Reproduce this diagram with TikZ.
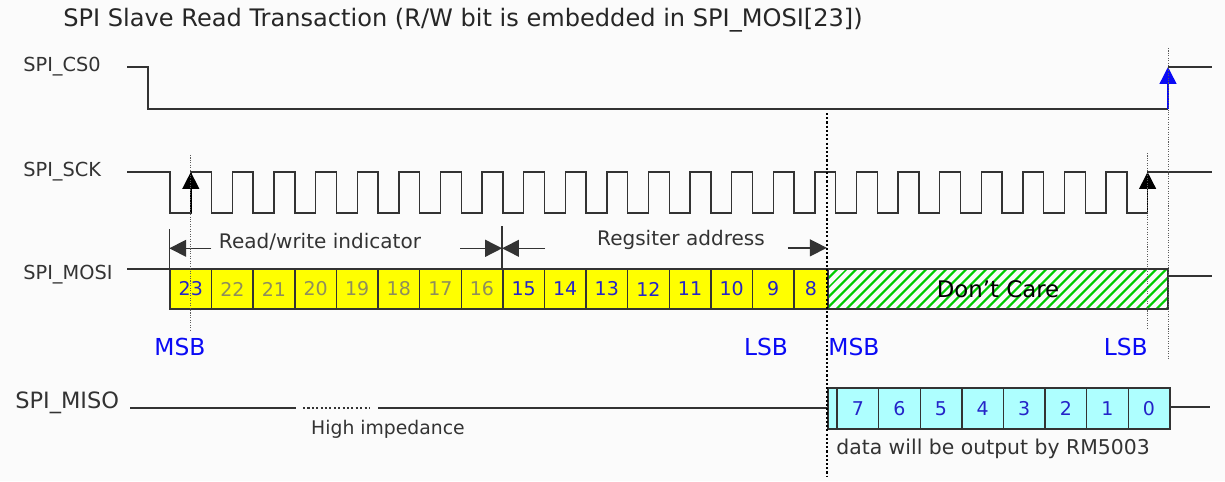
\documentclass[tikz,border=0pt]{standalone}
\usepackage{fontspec}
\setmainfont{DejaVu Sans}
\usetikzlibrary{arrows.meta,positioning,calc,patterns.meta}
\definecolor{inkgray}{HTML}{333333}
\definecolor{bitblue}{HTML}{2424C8}
\definecolor{markblue}{HTML}{0A0AF5}
\definecolor{rwolive}{HTML}{8E8E5C}
\definecolor{mosiyellow}{HTML}{FFFF00}
\definecolor{misocyan}{HTML}{AEFFFF}
\definecolor{hatchgreen}{HTML}{00CC00}
\definecolor{paper}{HTML}{FBFBFB}

\begin{document}
\begin{tikzpicture}[
    x=0.2mm, y=-0.2mm,
    >={Triangle[length=9.6pt,width=9.6pt]},
    wave/.style={inkgray, line width=0.8pt},
    bus/.style={inkgray, line width=1.5pt},
    sig/.style={anchor=west, text=inkgray, inner sep=0pt, font=\fontsize{11}{13}\selectfont},
    bitcell/.style={draw=inkgray, line width=0.8pt, fill=mosiyellow, minimum width=8.32mm,
                    minimum height=8mm, inner sep=0pt, font=\fontsize{10.8}{13}\selectfont},
    rwbit/.style={bitcell, text=rwolive},
    addrbit/.style={bitcell, text=bitblue},
    outbit/.style={bitcell, fill=misocyan, text=bitblue, minimum height=8.2mm},
    dontcare/.style={bitcell, fill=white, pattern={Lines[angle=45,distance=4pt,line width=1.3pt]},
                     pattern color=hatchgreen, minimum width=68mm, font=\fontsize{13}{15}\selectfont},
    bitmark/.style={text=markblue, inner sep=0pt, font=\fontsize{13.3}{15}\selectfont},
    note/.style={text=inkgray, inner sep=0pt, font=\fontsize{11.4}{13}\selectfont},
    dimline/.style={inkgray, line width=0.8pt},
    guide/.style={inkgray!80, line width=0.5pt, dash pattern=on 0.6pt off 0.8pt},
    splitline/.style={black, line width=1.2pt, dash pattern=on 1.2pt off 1.2pt},
    clkarrow/.style={black, line width=0.8pt},
]
\fill[paper] (0,0) rectangle (1225,481);
\useasboundingbox (0,0) rectangle (1225,481);

% =====================================================================
% title and signal names
% =====================================================================
\node[anchor=west, text=black!85, inner sep=0pt, font=\fontsize{13.7}{16}\selectfont]
    (title) at (63,20) {SPI Slave Read Transaction (R/W bit is embedded in SPI\_MOSI[23])};

\node[sig] (lcs)   at (23,67)  {SPI\_CS0};
\node[sig] (lsck)  at (23,172) {SPI\_SCK};
\node[sig] (lmosi) at (23,275) {SPI\_MOSI};
\node[sig, font=\fontsize{12.8}{14}\selectfont] (lmiso) at (15,403) {SPI\_MISO};

\coordinate (firstedge) at (190.8,172);
\coordinate (lastedge)  at (1147.6,172);
\coordinate (csrise)    at (1168,67);

% =====================================================================
% SPI_CS0 and SPI_SCK
% =====================================================================
\draw[wave] (127,67) -- (148,67) -- (148,109) -- (csrise |- 0,109);
\draw[wave, markblue, ->] (csrise |- 0,109) -- (csrise);
\draw[wave] (csrise) -- (1212,67);

% 24 clock pulses, falling edges on the bit borders
\draw[wave] (127,172)
  \foreach \k in {0,...,23} {
    -- ({170+41.6*\k},172) -- ({170+41.6*\k},213)
    -- ({190.8+41.6*\k},213) -- ({190.8+41.6*\k},172)
  } -- (1212,172);

\draw[clkarrow,->] (firstedge |- 0,213) -- (firstedge);
\draw[clkarrow,->] (lastedge |- 0,213) -- (lastedge);

% =====================================================================
% SPI_MOSI: R/W + address, then don't care
% =====================================================================
\draw[wave] (127,269) -- (170,269);
\node[addrbit] (m23) at (190.8,289) {23};
\foreach \b [count=\k from 1] in {22,21,...,16}
    \node[rwbit] (m\b) at ({190.8+41.6*\k},289) {\b};
\foreach \b [count=\k from 8] in {15,14,...,9}
    \node[addrbit] (m\b) at ({190.8+41.6*\k},289) {\b};
\node[addrbit, minimum width=6.8mm] (m8) at (811,289) {8};
\node[dontcare] (dc) at (998,289) {Don’t Care};
\draw[wave] (dc.east |- 0,276) -- (1212,276);

% field arrows
\draw[dimline] (m23.north west) -- ++(0,-39);
\draw[dimline] (m15.north west) -- ++(0,-42);
\draw[dimline,->] ($(m23.north west)+(42,-20)$) -- ($(m23.north west)+(0,-20)$);
\draw[dimline,->] ($(m15.north west)+(-42,-20)$) -- ($(m15.north west)+(0,-20)$);
\draw[dimline,->] ($(m15.north west)+(43,-20)$) -- ($(m15.north west)+(0,-20)$);
\draw[dimline,->] ($(dc.north west)+(-39,-20)$) -- ($(dc.north west)+(0,-20)$);
\node[note] (rwtxt)  at (320,242) {Read/write indicator};
\node[note] (regtxt) at (681,240) {Regsiter address};

\node[bitmark] (msbhi) at (180,347) {MSB};
\node[bitmark] (lsbhi) at (766,347) {LSB};
\node[bitmark, anchor=west] (msblo) at (828,347) {MSB};
\node[bitmark, anchor=east] (lsblo) at (1148,347) {LSB};

% =====================================================================
% SPI_MISO: high impedance, then data byte
% =====================================================================
\draw[bus] (130,408) -- (296,408);
\draw[bus, dash pattern=on 1.2pt off 1.3pt] (303,408) -- (370,408);
\draw[bus] (378,408) -- (dc.west |- 0,408);
\node[outbit, minimum width=1.8mm] (ogap) at (832.5,408.5) {};
\foreach \b [count=\k from 0] in {7,6,...,0}
    \node[outbit] (o\b) at ({857.8+41.6*\k},408.5) {\b};
\draw[bus] (o0.east |- 0,407) -- (1210,407);

\node[note, font=\fontsize{10.7}{13}\selectfont] (hiz) at (388,429) {High impedance};
\node[note, anchor=west, font=\fontsize{11.6}{13}\selectfont] (dout) at (836,449)
    {data will be output by RM5003};

% guide lines over everything
\draw[guide] (firstedge |- 0,155) -- (firstedge |- 0,330);
\draw[guide] (lastedge |- 0,153) -- (lastedge |- 0,330);
\draw[guide] (csrise |- 0,48) -- (csrise |- 0,360);
\draw[splitline] (dc.north west |- 0,113) -- (dc.north west |- 0,477);

\end{tikzpicture}
\end{document}
